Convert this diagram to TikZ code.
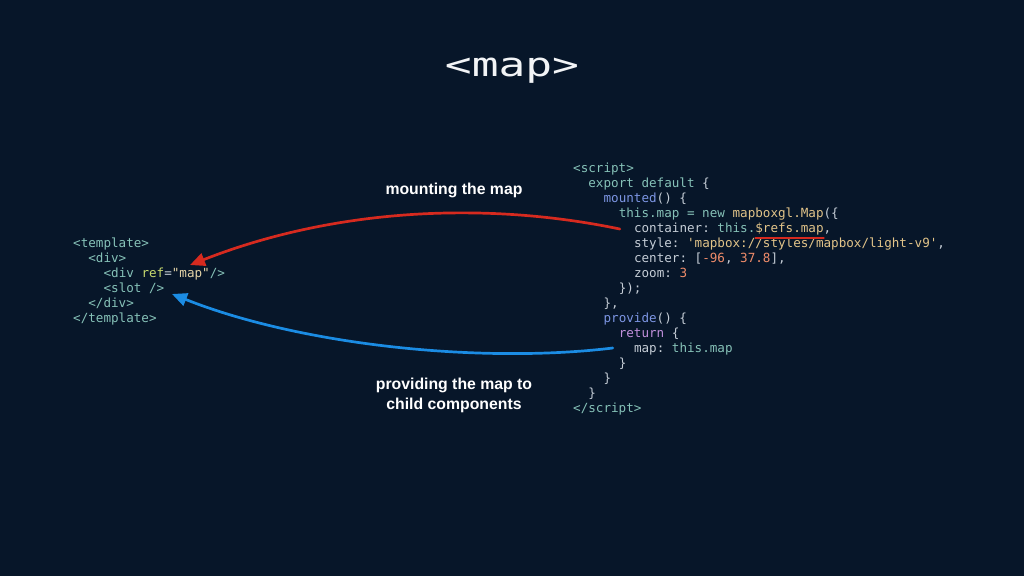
\documentclass[tikz,border=0pt]{standalone}
\usepackage{fontspec}
\setmonofont{DejaVu Sans Mono}
\setsansfont{Liberation Sans}
\newfontfamily\titlefont{DejaVu Sans Mono}
\usetikzlibrary{arrows.meta}
\frenchspacing
\definecolor{bg}{HTML}{071629}
\definecolor{tealc}{HTML}{86C2B8}
\definecolor{plainc}{HTML}{C5CDD6}
\definecolor{bluec}{HTML}{7D96E4}
\definecolor{purc}{HTML}{C08FDB}
\definecolor{tanc}{HTML}{E2C489}
\definecolor{attrc}{HTML}{C7D96E}
\definecolor{strc}{HTML}{E6D5A8}
\definecolor{numc}{HTML}{F08C6A}
\definecolor{redc}{HTML}{D62A1F}
\definecolor{bluea}{HTML}{1B8CE3}
\definecolor{titlec}{HTML}{F2F4F6}
\newcommand\cT[1]{\textcolor{tealc}{#1}}
\newcommand\cP[1]{\textcolor{plainc}{#1}}
\newcommand\cB[1]{\textcolor{bluec}{#1}}
\newcommand\cU[1]{\textcolor{purc}{#1}}
\newcommand\cN[1]{\textcolor{tanc}{#1}}
\newcommand\cA[1]{\textcolor{attrc}{#1}}
\newcommand\cS[1]{\textcolor{strc}{#1}}
\newcommand\cM[1]{\textcolor{numc}{#1}}
\tikzset{
  codeline/.style={anchor=west, inner sep=0pt, text height=9pt, text depth=3pt,
    font=\ttfamily\fontsize{12.6}{15}\selectfont\frenchspacing, text=tealc},
  lbl/.style={inner sep=0pt, text=white, align=center,
    font=\sffamily\bfseries\fontsize{15.8}{20}\selectfont},
  flow/.style={line width=2.7pt, line cap=round},
}
\begin{document}
\begin{tikzpicture}[x=1pt,y=-1pt]
\fill[bg] (0,0) rectangle (1024,576);
\useasboundingbox (0,0) rectangle (1024,576);

% title
\node[anchor=base, inner sep=0pt, text=titlec] (title) at (512,76)
  {\scalebox{1.35}[1]{\titlefont\fontsize{33}{36}\selectfont <map>}};

% template
\node[codeline] (t1) at (73,244) {\cT{<template>}};
\node[codeline] (t2) at (88.2,259) {\cT{<div>}};
\node[codeline] (t3) at (103.4,274) {\cT{<div} \cA{ref}\cP{=}\cS{"map"}\cT{/>}};
\node[codeline] (t4) at (103.4,289) {\cT{<slot />}};
\node[codeline] (t5) at (88.2,304) {\cT{</div>}};
\node[codeline] (t6) at (73,319) {\cT{</template>}};

% script
\node[codeline] (s1) at (573,169) {\cT{<script>}};
\node[codeline] (s2) at (588.2,184) {\cT{export default} \cP{\{}};
\node[codeline] (s3) at (603.4,199) {\cB{mounted}\cP{() \{}};
\node[codeline] (s4) at (618.6,214) {\cT{this.map = new} \cN{mapboxgl.Map}\cP{(\{}};
\node[codeline] (s5) at (633.8,229) {\cP{container:} \cT{this.}\cN{\$refs.map}\cP{,}};
\node[codeline] (s6) at (633.8,244) {\cP{style:} \cN{'mapbox://styles/mapbox/light-v9'}\cP{,}};
\node[codeline] (s7) at (633.8,259) {\cP{center: [}\cM{-96}\cP{,} \cM{37.8}\cP{],}};
\node[codeline] (s8) at (633.8,274) {\cP{zoom:} \cM{3}};
\node[codeline] (s9) at (618.6,289) {\cP{\});}};
\node[codeline] (s10) at (603.4,304) {\cP{\},}};
\node[codeline] (s11) at (603.4,319) {\cB{provide}\cP{() \{}};
\node[codeline] (s12) at (618.6,334) {\cU{return} \cP{\{}};
\node[codeline] (s13) at (633.8,349) {\cP{map:} \cT{this.map}};
\node[codeline] (s14) at (618.6,364) {\cP{\}}};
\node[codeline] (s15) at (603.4,379) {\cP{\}}};
\node[codeline] (s16) at (588.2,394) {\cP{\}}};
\node[codeline] (s17) at (573,409) {\cT{</script>}};

% labels
\node[lbl] (lm) at (454,190) {mounting the map};
\node[lbl] (lp) at (454,395) {providing the map to\\child components};

% underline of $refs.map
\coordinate (u1) at ([xshift=121.6pt,yshift=-9pt]s5.west);
\coordinate (u2) at ([xshift=190pt,yshift=-9pt]s5.west);
\draw[redc, line width=1.8pt, line cap=round] (u1) -- (u2);

% arrows
\coordinate (rs) at ([xshift=-14pt,yshift=0pt]s5.west);
\coordinate (rt) at (190,265);
\draw[flow, redc, -{Triangle[length=15pt,width=13pt]}]
  (rs) .. controls (480,200) and (330,210) .. (rt);

\coordinate (bs) at ([xshift=-21pt,yshift=1pt]s13.west);
\coordinate (bt) at (172,294);
\draw[flow, bluea, -{Triangle[length=15pt,width=13pt]}]
  (bs) .. controls (480,364) and (300,345) .. (bt);
\end{tikzpicture}
\end{document}
